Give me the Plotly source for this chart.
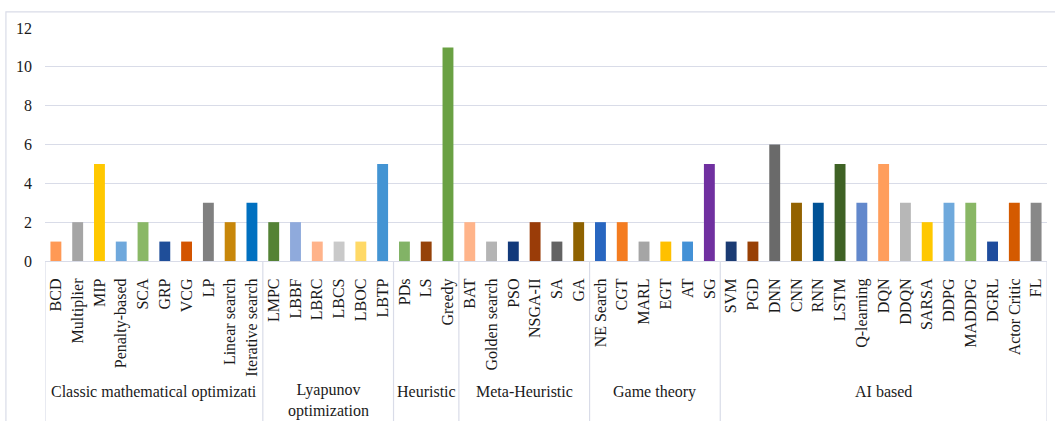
import plotly.graph_objects as go

# Methods grouped by family, with the count of works using each one
groups = ["Classic mathematical optimizati", "Lyapunov<br>optimization", "Heuristic",
          "Meta-Heuristic", "Game theory", "AI based"]

classic_names = ["BCD", "Multiplier", "MIP", "Penalty-based", "SCA", "GRP", "VCG", "LP",
                 "Linear search", "Iterative search"]
classic_vals = [1, 2, 5, 1, 2, 1, 1, 3, 2, 3]

lyapunov_names = ["LMPC", "LBBF", "LBRC", "LBCS", "LBOC", "LBTP"]
lyapunov_vals = [2, 2, 1, 1, 1, 5]

heuristic_names = ["PDs", "LS", "Greedy"]
heuristic_vals = [1, 1, 11]

meta_names = ["BAT", "Golden search", "PSO", "NSGA-II", "SA", "GA"]
meta_vals = [2, 1, 1, 2, 1, 2]

game_names = ["NE Search", "CGT", "MARL", "EGT", "AT", "SG"]
game_vals = [2, 2, 1, 1, 1, 5]

ai_names = ["SVM", "PGD", "DNN", "CNN", "RNN", "LSTM", "Q-learning", "DQN", "DDQN", "SARSA",
            "DDPG", "MADDPG", "DGRL", "Actor Critic", "FL"]
ai_vals = [1, 1, 6, 3, 3, 5, 3, 5, 3, 2, 3, 3, 1, 3, 3]

bar_colors = [
    "#FF9955", "#A5A5A5", "#FFC800", "#6FA8DC", "#8AB866", "#1F4E99", "#D35400", "#808080",
    "#C8870A", "#0070C0",
    "#548235", "#8FAADC", "#FFB38A", "#C9C9C9", "#FFD966", "#4394D3",
    "#82B366", "#954209", "#6AA143",
    "#FFB48A", "#B4B4B4", "#12397A", "#9A3C08", "#636363", "#8F6200",
    "#2866C0", "#F47C20", "#A5A5A5", "#FFC000", "#4391D6", "#7030A0",
    "#1B3B73", "#984004", "#6A6A6A", "#936200", "#005296", "#3F6225", "#6288CC", "#FF9E5C",
    "#B7B7B7", "#FFC800", "#6FA9DC", "#89B765", "#1E4C9D", "#D45A00", "#888888",
]

name_lists = [classic_names, lyapunov_names, heuristic_names, meta_names, game_names, ai_names]
val_lists = [classic_vals, lyapunov_vals, heuristic_vals, meta_vals, game_vals, ai_vals]

names = [n for lst in name_lists for n in lst]
values = [v for lst in val_lists for v in lst]
xs = list(range(len(names)))

FONT = "Liberation Serif, Times New Roman, serif"
TEXT = "#1a1a1a"
LINE = "#D9DCE8"

fig = go.Figure(go.Bar(x=xs, y=values, marker=dict(color=bar_colors, line=dict(width=0)),
                       hoverinfo="skip"))

# group boundaries and label positions along the category axis
shapes = []
annotations = []
start = 0
bounds = [-0.5]
for label, lst in zip(groups, name_lists):
    end = start + len(lst) - 1
    bounds.append(end + 0.5)
    annotations.append(dict(x=(start + end) / 2, y=-0.6 if "<br>" in label else -0.562,
                            xref="x", yref="paper", text=label, showarrow=False,
                            xanchor="center", yanchor="middle",
                            font=dict(family=FONT, size=16, color=TEXT)))
    start = end + 1

for b in bounds:
    shapes.append(dict(type="line", xref="x", yref="paper", x0=b, x1=b, y0=0, y1=-0.69,
                       line=dict(color=LINE, width=1.2)))

# outer frame of the chart
shapes.append(dict(type="rect", xref="paper", yref="paper", x0=-0.039, x1=1.012,
                   y0=-0.7, y1=1.069, line=dict(color=LINE, width=1.2), layer="below"))

fig.update_layout(
    width=1055, height=421,
    margin=dict(l=45, r=8, t=28, b=160),
    paper_bgcolor="white", plot_bgcolor="white",
    bargap=0.5,
    showlegend=False,
    font=dict(family=FONT, size=16, color=TEXT),
    xaxis=dict(range=[-0.5, len(names) - 0.5], tickmode="array", tickvals=xs, ticktext=names,
               tickangle=-90, ticks="", showgrid=False, zeroline=False,
               showline=True, linecolor=LINE, linewidth=1.2,
               tickfont=dict(family=FONT, size=16, color=TEXT), ticklabelstandoff=10),
    yaxis=dict(range=[0, 12], dtick=2, showgrid=True, gridcolor=LINE, gridwidth=1.2,
               zeroline=False, showline=False, ticks="",
               tickfont=dict(family=FONT, size=16, color=TEXT), ticklabelstandoff=12),
    shapes=shapes, annotations=annotations,
)

fig.write_html("out.html")
